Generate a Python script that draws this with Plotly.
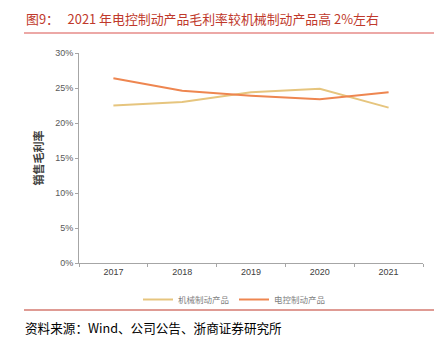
import plotly.graph_objects as go

years = ["2017", "2018", "2019", "2020", "2021"]
mechanical = [0.225, 0.230, 0.244, 0.249, 0.222]
electronic = [0.264, 0.246, 0.239, 0.234, 0.244]
series_names = ["机械制动产品", "电控制动产品"]
title_text = "图9：   2021 年电控制动产品毛利率较机械制动产品高 2%左右"
source_text = "资料来源：Wind、公司公告、浙商证券研究所"
y_title = "销售毛利率"

W, H = 441, 338
L, R, T, B = 79, 18, 53, 75

def px_x(px):
    return (px - L) / (W - L - R)

def px_y(py):
    return (H - B - py) / (H - T - B)

fig = go.Figure()
fig.add_trace(go.Scatter(x=years, y=mechanical, mode="lines", name=series_names[0],
                         line=dict(color="#E6C57E", width=2)))
fig.add_trace(go.Scatter(x=years, y=electronic, mode="lines", name=series_names[1],
                         line=dict(color="#EE8650", width=2)))

font_cjk = "Noto Sans CJK SC"
fig.update_layout(
    width=W, height=H,
    margin=dict(l=L, r=R, t=T, b=B, autoexpand=False),
    paper_bgcolor="white", plot_bgcolor="white",
    font=dict(family=font_cjk, size=9, color="#595959"),
    showlegend=True,
    legend=dict(orientation="h", x=px_x(138), xanchor="left",
                y=px_y(285), yanchor="top", bgcolor="rgba(0,0,0,0)",
                font=dict(size=8.5, color="#7f7f7f"), itemwidth=30,
                tracegroupgap=0),
    xaxis=dict(type="category", range=[-0.5, 4.5], showline=True, linecolor="#A6A6A6",
               linewidth=1, ticks="outside", tickson="boundaries", ticklen=3,
               tickcolor="#A6A6A6", showgrid=False, zeroline=False,
               tickfont=dict(family="Liberation Sans, Arial", size=9, color="#404040")),
    yaxis=dict(range=[0, 0.30], dtick=0.05, tickformat=".0%", showline=True,
               linecolor="#A6A6A6", linewidth=1, ticks="outside", ticklen=3,
               tickcolor="#A6A6A6", showgrid=False, zeroline=False,
               tickfont=dict(family="Liberation Sans, Arial", size=9, color="#595959"),
               title=dict(text="<b>" + y_title + "</b>", standoff=9,
                          font=dict(family=font_cjk, size=11, color="#404040"))),
)

# title
fig.add_annotation(text=title_text, xref="paper", yref="paper",
                   x=px_x(24), y=px_y(19),
                   xanchor="left", yanchor="middle", showarrow=False,
                   font=dict(family=font_cjk, size=12.9, color="#C0392B"))
# source
fig.add_annotation(text=source_text, xref="paper", yref="paper",
                   x=px_x(23), y=px_y(327),
                   xanchor="left", yanchor="middle", showarrow=False,
                   font=dict(family=font_cjk, size=12.6, color="#000000"))

fig.add_shape(type="line", xref="paper", yref="paper",
              x0=px_x(24), x1=px_x(434), y0=px_y(33), y1=px_y(33),
              line=dict(color="#D9534F", width=1.2))
fig.add_shape(type="line", xref="paper", yref="paper",
              x0=px_x(24), x1=px_x(434), y0=px_y(310), y1=px_y(310),
              line=dict(color="#C0392B", width=1.2))

fig.write_html("out.html")
